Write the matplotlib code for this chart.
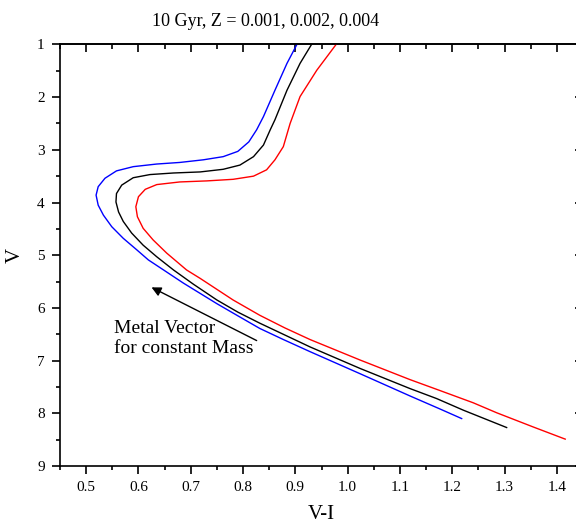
import matplotlib
import matplotlib.pyplot as plt
from matplotlib.ticker import MultipleLocator

matplotlib.use('Agg')

plt.rcParams['font.family'] = ['Liberation Serif', 'DejaVu Serif']

# 10 Gyr isochrones, (V-I, V) along each track, from the giant branch down
vi_z001 = [0.903, 0.884, 0.861, 0.839, 0.826, 0.811, 0.790, 0.762, 0.724, 0.679,
           0.635, 0.590, 0.558, 0.536, 0.523, 0.519, 0.523, 0.533, 0.549, 0.571,
           0.597, 0.619, 0.648, 0.686, 0.750, 0.790, 0.832, 0.877, 0.928, 1.024,
           1.119, 1.177, 1.218]
v_z001 = [1.00, 1.36, 1.87, 2.37, 2.62, 2.85, 3.03, 3.13, 3.19, 3.24,
          3.27, 3.32, 3.40, 3.54, 3.70, 3.86, 4.05, 4.24, 4.46, 4.68,
          4.90, 5.09, 5.28, 5.53, 5.92, 6.15, 6.39, 6.60, 6.83, 7.25,
          7.67, 7.92, 8.10]

vi_z002 = [0.931, 0.909, 0.884, 0.861, 0.852, 0.839, 0.820, 0.794, 0.762, 0.718,
           0.667, 0.622, 0.590, 0.568, 0.558, 0.557, 0.562, 0.571, 0.587, 0.609,
           0.635, 0.667, 0.705, 0.750, 0.790, 0.832, 0.928, 1.024, 1.119, 1.170,
           1.221, 1.304]
v_z002 = [1.00, 1.36, 1.87, 2.43, 2.62, 2.91, 3.13, 3.29, 3.37, 3.42,
          3.44, 3.47, 3.53, 3.67, 3.83, 3.99, 4.18, 4.36, 4.58, 4.81,
          5.03, 5.28, 5.55, 5.85, 6.08, 6.29, 6.74, 7.15, 7.53, 7.72,
          7.94, 8.27]

vi_z004 = [0.978, 0.941, 0.909, 0.890, 0.877, 0.861, 0.845, 0.820, 0.781, 0.731,
           0.679, 0.635, 0.613, 0.600, 0.595, 0.598, 0.609, 0.628, 0.654, 0.692,
           0.718, 0.781, 0.832, 0.880, 0.928, 1.024, 1.119, 1.177, 1.240, 1.285,
           1.355, 1.416]
v_z004 = [1.00, 1.49, 1.99, 2.50, 2.94, 3.19, 3.38, 3.50, 3.56, 3.59,
          3.61, 3.66, 3.75, 3.89, 4.08, 4.27, 4.49, 4.71, 4.96, 5.28,
          5.44, 5.85, 6.14, 6.38, 6.60, 6.99, 7.36, 7.57, 7.80, 7.99,
          8.26, 8.49]

# metal vector (tail -> head)
vec_tail = (0.826, 6.62)
vec_head = (0.625, 5.61)

fig = plt.figure(figsize=(5.76, 5.27), dpi=100)
ax = fig.add_axes([60 / 576, 61 / 527, 523 / 576, 421.6 / 527])

ax.plot(vi_z001, v_z001, color='#0000ff', lw=1.0)
ax.plot(vi_z002, v_z002, color='black', lw=1.0)
ax.plot(vi_z004, v_z004, color='#ff0000', lw=1.0)

ax.annotate('', xy=vec_head, xytext=vec_tail,
            arrowprops=dict(arrowstyle='-|>', color='k', lw=1.0,
                            mutation_scale=14, shrinkA=0, shrinkB=0))
ax.text(0.553, 6.23, 'Metal Vector\nfor constant Mass', fontsize=14,
        ha='left', va='top', linespacing=1.25)

ax.set_xlim(0.45, 1.45)
ax.set_ylim(9, 1)
ax.xaxis.set_major_locator(MultipleLocator(0.1))
ax.xaxis.set_minor_locator(MultipleLocator(0.05))
ax.yaxis.set_major_locator(MultipleLocator(1))
ax.yaxis.set_minor_locator(MultipleLocator(0.5))
ax.xaxis.set_major_formatter(lambda v, p: f"{v:.1f}")
ax.yaxis.set_major_formatter(lambda v, p: f"{v:.0f}")
ax.tick_params(which='both', direction='out', width=1.2, labelsize=11, pad=5)
ax.tick_params(which='major', length=6)
ax.tick_params(which='minor', length=3)

# inward ticks on top and right, no labels
top = ax.secondary_xaxis('top')
top.xaxis.set_major_locator(MultipleLocator(0.1))
top.xaxis.set_minor_locator(MultipleLocator(0.05))
top.tick_params(which='both', direction='in', width=1.2, labeltop=False)
top.tick_params(which='major', length=6)
top.tick_params(which='minor', length=3.5)
right = ax.secondary_yaxis('right')
right.yaxis.set_major_locator(MultipleLocator(1))
right.yaxis.set_minor_locator(MultipleLocator(0.5))
right.tick_params(which='both', direction='in', width=1.2, labelright=False)
right.tick_params(which='major', length=6)
right.tick_params(which='minor', length=3)

for sp in list(ax.spines.values()) + [top.spines['top'], right.spines['right']]:
    sp.set_linewidth(1.2)

ax.set_xlabel('V-I', fontsize=15, labelpad=8)
ax.set_ylabel('V', fontsize=15, labelpad=9)
ax.set_title('10 Gyr, Z = 0.001, 0.002, 0.004', fontsize=13, pad=13, x=0.394)

fig.savefig('out.png', dpi=100)
